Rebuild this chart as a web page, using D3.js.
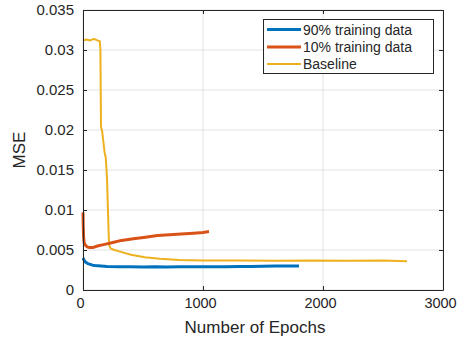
<!DOCTYPE html>
<html>
<head>
<meta charset="utf-8">
<script src="https://cdn.jsdelivr.net/npm/d3@7"></script>
<style>
  html, body { margin: 0; padding: 0; background: #fff; }
  svg { display: block; font-family: "Liberation Sans", Arial, Helvetica, sans-serif; }
</style>
</head>
<body>
<svg id="chart" width="457" height="341"></svg>
<script>
// Training curves: mean squared error per epoch
const seriesNames = ["90% training data", "10% training data", "Baseline"];
const seriesColors = ["#0072BD", "#D95319", "#EDB120"];
const seriesWidths = [3, 3, 2];

const epochs90 = [0, 10, 20, 40, 60, 80, 100, 150, 200, 300, 400, 500, 600, 700, 800, 900, 1000, 1100, 1200, 1300, 1400, 1500, 1600, 1700, 1800];
const mse90 = [0.0040, 0.0037, 0.0035, 0.0033, 0.0032, 0.0031, 0.00305, 0.0030, 0.00295, 0.0029, 0.0029, 0.00288, 0.0029, 0.00288, 0.0029, 0.0029, 0.00292, 0.0029, 0.0029, 0.00295, 0.00293, 0.00297, 0.0030, 0.0030, 0.0030];

const epochs10 = [0, 2, 5, 10, 20, 35, 55, 80, 120, 180, 240, 320, 420, 520, 620, 720, 820, 920, 1000, 1050];
const mse10 = [0.0097, 0.0080, 0.0066, 0.0059, 0.0056, 0.0054, 0.0053, 0.0053, 0.0055, 0.0057, 0.0059, 0.0062, 0.0064, 0.0066, 0.0068, 0.0069, 0.0070, 0.0071, 0.0072, 0.0073];

const epochsBase = [0, 30, 60, 90, 120, 140, 145, 150, 160, 170, 180, 190, 200, 210, 215, 220, 230, 260, 310, 400, 515, 640, 800, 1000, 1300, 1600, 1900, 2200, 2500, 2700];
const mseBase = [0.0312, 0.0313, 0.0312, 0.0314, 0.0312, 0.0311, 0.0300, 0.0204, 0.0198, 0.0185, 0.0172, 0.0165, 0.0140, 0.0090, 0.0065, 0.0055, 0.0052, 0.0050, 0.0048, 0.0044, 0.0041, 0.0039, 0.00375, 0.0037, 0.0037, 0.00365, 0.0037, 0.00365, 0.0037, 0.0036];

const xTicks = [0, 1000, 2000, 3000];
const yTicks = [0, 0.005, 0.01, 0.015, 0.02, 0.025, 0.03, 0.035];
const yTickLabels = ["0", "0.005", "0.01", "0.015", "0.02", "0.025", "0.03", "0.035"];

const series = [
  { name: seriesNames[0], x: epochs90, y: mse90, color: seriesColors[0], width: seriesWidths[0] },
  { name: seriesNames[1], x: epochs10, y: mse10, color: seriesColors[1], width: seriesWidths[1] },
  { name: seriesNames[2], x: epochsBase, y: mseBase, color: seriesColors[2], width: seriesWidths[2] }
];

const svg = d3.select("#chart");
const plotLeft = 83, plotRight = 443, plotTop = 10, plotBottom = 290;
const axisColor = "#262626";

const x = d3.scaleLinear().domain([0, 3000]).range([plotLeft, plotRight]);
const y = d3.scaleLinear().domain([0, 0.035]).range([plotBottom, plotTop]);

// grid
const grid = svg.append("g");
grid.selectAll("line.gx").data(xTicks).join("line")
  .attr("x1", d => x(d)).attr("x2", d => x(d))
  .attr("y1", plotTop).attr("y2", plotBottom)
  .attr("stroke", "#e3e3e3").attr("stroke-width", 1);
grid.selectAll("line.gy").data(yTicks).join("line")
  .attr("x1", plotLeft).attr("x2", plotRight)
  .attr("y1", d => y(d)).attr("y2", d => y(d))
  .attr("stroke", "#e3e3e3").attr("stroke-width", 1);

// curves, drawn so the 90% curve ends up on top
const line = d3.line().x(d => x(d[0])).y(d => y(d[1]));
const plot = svg.append("g");
series.slice().reverse().forEach(s => {
  plot.append("path")
    .datum(s.x.map((e, i) => [e, s.y[i]]))
    .attr("d", line)
    .attr("fill", "none")
    .attr("stroke", s.color)
    .attr("stroke-width", s.width)
    .attr("stroke-linejoin", "round");
});

// axes (box with inward ticks)
function styleAxis(g, size) {
  g.select(".domain").attr("stroke", axisColor).attr("stroke-width", 1);
  g.selectAll(".tick line").attr("stroke", axisColor);
  g.selectAll(".tick text").attr("fill", axisColor).style("font-size", size + "px")
    .style("font-family", "'Liberation Sans', Arial, sans-serif");
}

const xAxisG = svg.append("g").attr("transform", `translate(0,${plotBottom})`)
  .call(d3.axisBottom(x).tickValues(xTicks).tickFormat(d3.format("d")).tickSizeInner(-4).tickSizeOuter(0).tickPadding(8))
  .call(styleAxis, 14.5);
xAxisG.selectAll(".tick text").attr("dx", -3);
svg.append("g").attr("transform", `translate(${plotLeft},0)`)
  .call(d3.axisLeft(y).tickValues(yTicks).tickFormat((d, i) => yTickLabels[i]).tickSizeInner(-4).tickSizeOuter(0).tickPadding(9))
  .call(styleAxis, 15);
svg.append("g").attr("transform", `translate(0,${plotTop})`)
  .call(d3.axisTop(x).tickValues(xTicks).tickFormat("").tickSizeInner(-4).tickSizeOuter(0))
  .call(styleAxis, 15);
svg.append("g").attr("transform", `translate(${plotRight},0)`)
  .call(d3.axisRight(y).tickValues(yTicks).tickFormat("").tickSizeInner(-4).tickSizeOuter(0))
  .call(styleAxis, 15);

// axis labels
svg.append("text")
  .attr("x", (plotLeft + plotRight) / 2 - 8).attr("y", 333)
  .attr("text-anchor", "middle").attr("fill", axisColor)
  .style("font-size", "17px").text("Number of Epochs");
svg.append("text")
  .attr("transform", `translate(25,${(plotTop + plotBottom) / 2}) rotate(-90)`)
  .attr("text-anchor", "middle").attr("fill", axisColor)
  .style("font-size", "17px").text("MSE");

// legend
const lg = svg.append("g");
lg.append("rect")
  .attr("x", 263.5).attr("y", 19.5).attr("width", 170).attr("height", 54)
  .attr("fill", "#fff").attr("stroke", axisColor).attr("stroke-width", 1);
const rowY = [29.5, 47, 64];
series.forEach((s, i) => {
  lg.append("line")
    .attr("x1", 267).attr("x2", 301)
    .attr("y1", rowY[i]).attr("y2", rowY[i])
    .attr("stroke", s.color).attr("stroke-width", s.width);
  lg.append("text")
    .attr("x", 303).attr("y", rowY[i] + 5)
    .attr("fill", axisColor).style("font-size", "14px")
    .text(s.name);
});
</script>
</body>
</html>
